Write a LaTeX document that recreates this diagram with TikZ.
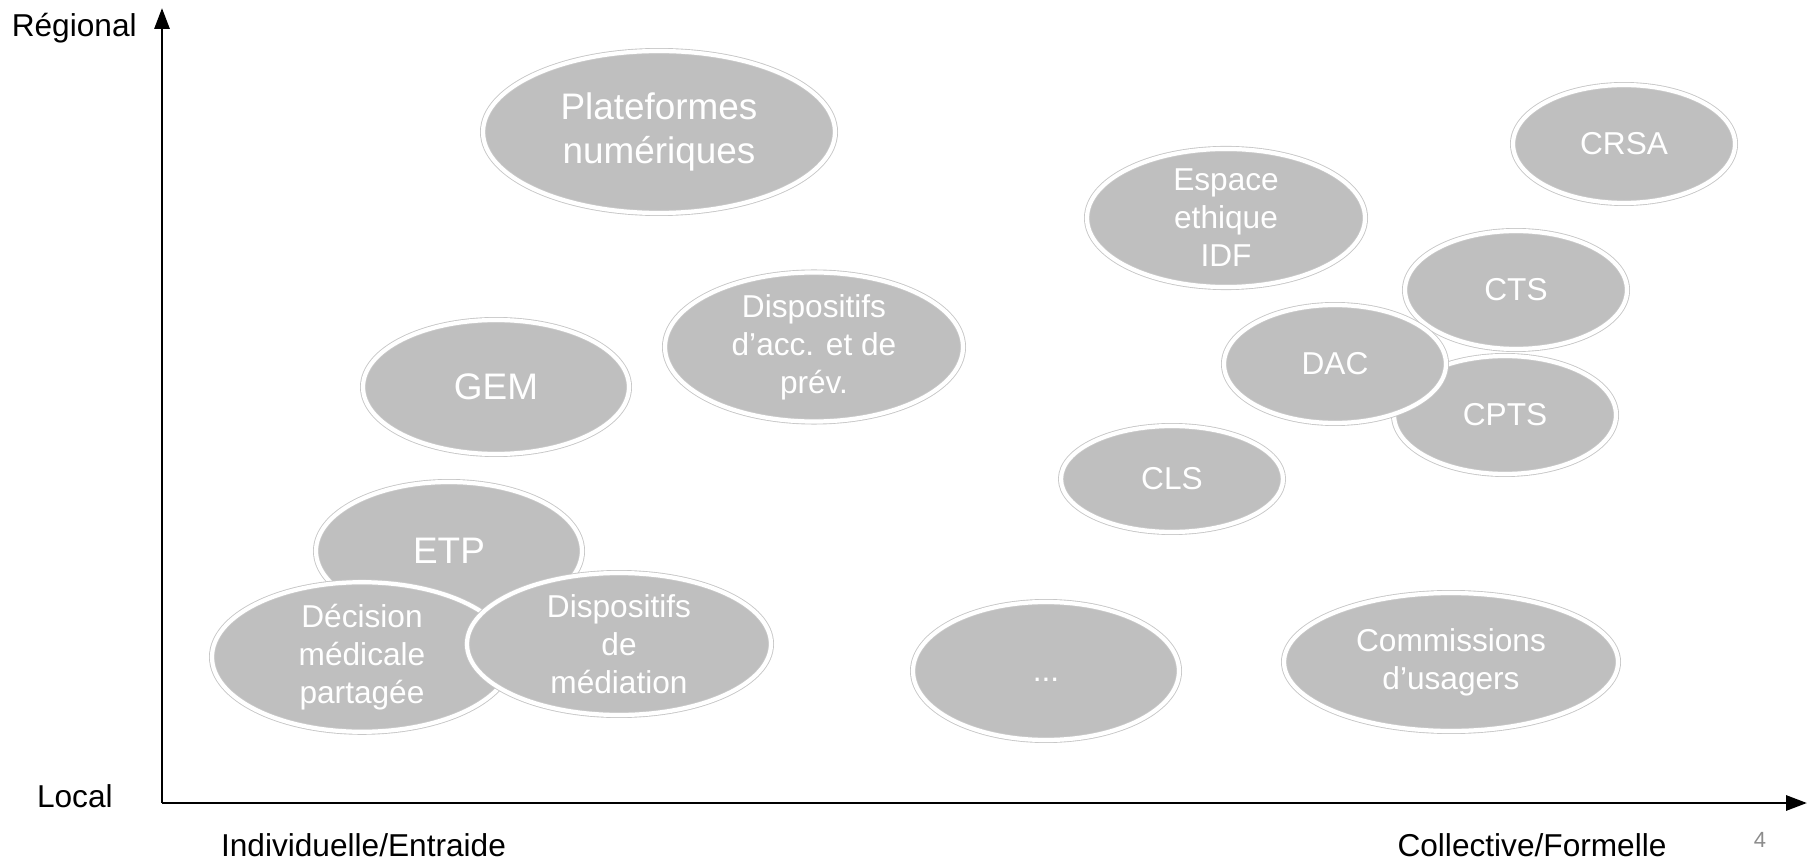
\documentclass[tikz,border=0pt]{standalone}
\usepackage{fontspec}
\setmainfont{Liberation Sans}
\usepackage{tikz}
\usetikzlibrary{shapes,positioning,arrows.meta,shadows}
\colorlet{blobgray}{black!25}
\colorlet{pagegray}{black!45}

\begin{document}
\begin{tikzpicture}[y=-1cm,
  blob/.style 2 args={ellipse, fill=blobgray, draw=black!22, double=white, double distance=2.4pt, line width=0.5pt, minimum width=#1, minimum height=#2, inner sep=0pt, align=center, text=white, font=\fontsize{18}{21.6}\selectfont, drop shadow={shadow xshift=0.03cm, shadow yshift=-0.04cm, opacity=0.2, fill=black}},
  bigtext/.style={font=\fontsize{21}{25}\selectfont},
  axislabel/.style={font=\fontsize{18}{21.6}\selectfont, text=black, inner sep=0pt}]

\useasboundingbox (0,0) rectangle (36.28,17.24);

% AXES

\coordinate (origin) at (3.24,16.06);
\coordinate (top) at (3.24,0.16);
\coordinate (right) at (36.14,16.06);
\draw [line width=1.7pt, -{Triangle[length=0.42cm,width=0.3cm]}] (origin) -- (top);
\draw [line width=1.7pt, -{Triangle[length=0.42cm,width=0.3cm]}] (origin) -- (right);

\node [axislabel, anchor=east] (regional) at (2.74,0.56) {Régional};
\node [axislabel, anchor=east] (local) at (2.26,15.92) {Local};
\node [axislabel] (individuelle) at (7.27,16.9) {Individuelle/Entraide};
\node [axislabel] (collective) at (30.64,16.9) {Collective/Formelle};
\node [axislabel, text=pagegray, font=\fontsize{12.5}{15}\selectfont] (pagenum) at (35.2,16.8) {4};

% DISPOSITIFS

\node [blob={7.04cm}{3.24cm}, bigtext] (plateformes) at (13.18,2.64) {Plateformes\\numériques};
\node [blob={5.56cm}{2.76cm}] (espace) at (24.52,4.36) {Espace\\ethique\\IDF};
\node [blob={4.44cm}{2.36cm}] (crsa) at (32.48,2.88) {CRSA};
\node [blob={4.44cm}{2.36cm}] (cts) at (30.32,5.80) {CTS};
\node [blob={4.44cm}{2.36cm}] (cpts) at (30.10,8.30) {CPTS};
\node [blob={4.44cm}{2.36cm}] (dac) at (26.70,7.28) {DAC};
\node [blob={4.44cm}{2.12cm}] (cls) at (23.44,9.58) {CLS};
\node [blob={5.96cm}{2.60cm}] (accprev) at (16.28,6.94) {Dispositifs\\d’acc. et de\\prév.};
\node [blob={5.32cm}{2.68cm}, bigtext] (gem) at (9.92,7.74) {GEM};
\node [blob={5.32cm}{2.76cm}, bigtext] (etp) at (8.98,11.02) {ETP};
\node [blob={6.00cm}{2.76cm}] (decision) at (7.24,13.14) {Décision\\médicale\\partagée};
\node [blob={6.08cm}{2.84cm}] (mediation) at (12.38,12.88) {Dispositifs\\de\\médiation};
\node [blob={5.32cm}{2.76cm}] (autres) at (20.92,13.42) {\vphantom{A}...};
\node [blob={6.68cm}{2.76cm}] (commissions) at (29.02,13.24) {Commissions\\d’usagers};

\end{tikzpicture}
\end{document}
